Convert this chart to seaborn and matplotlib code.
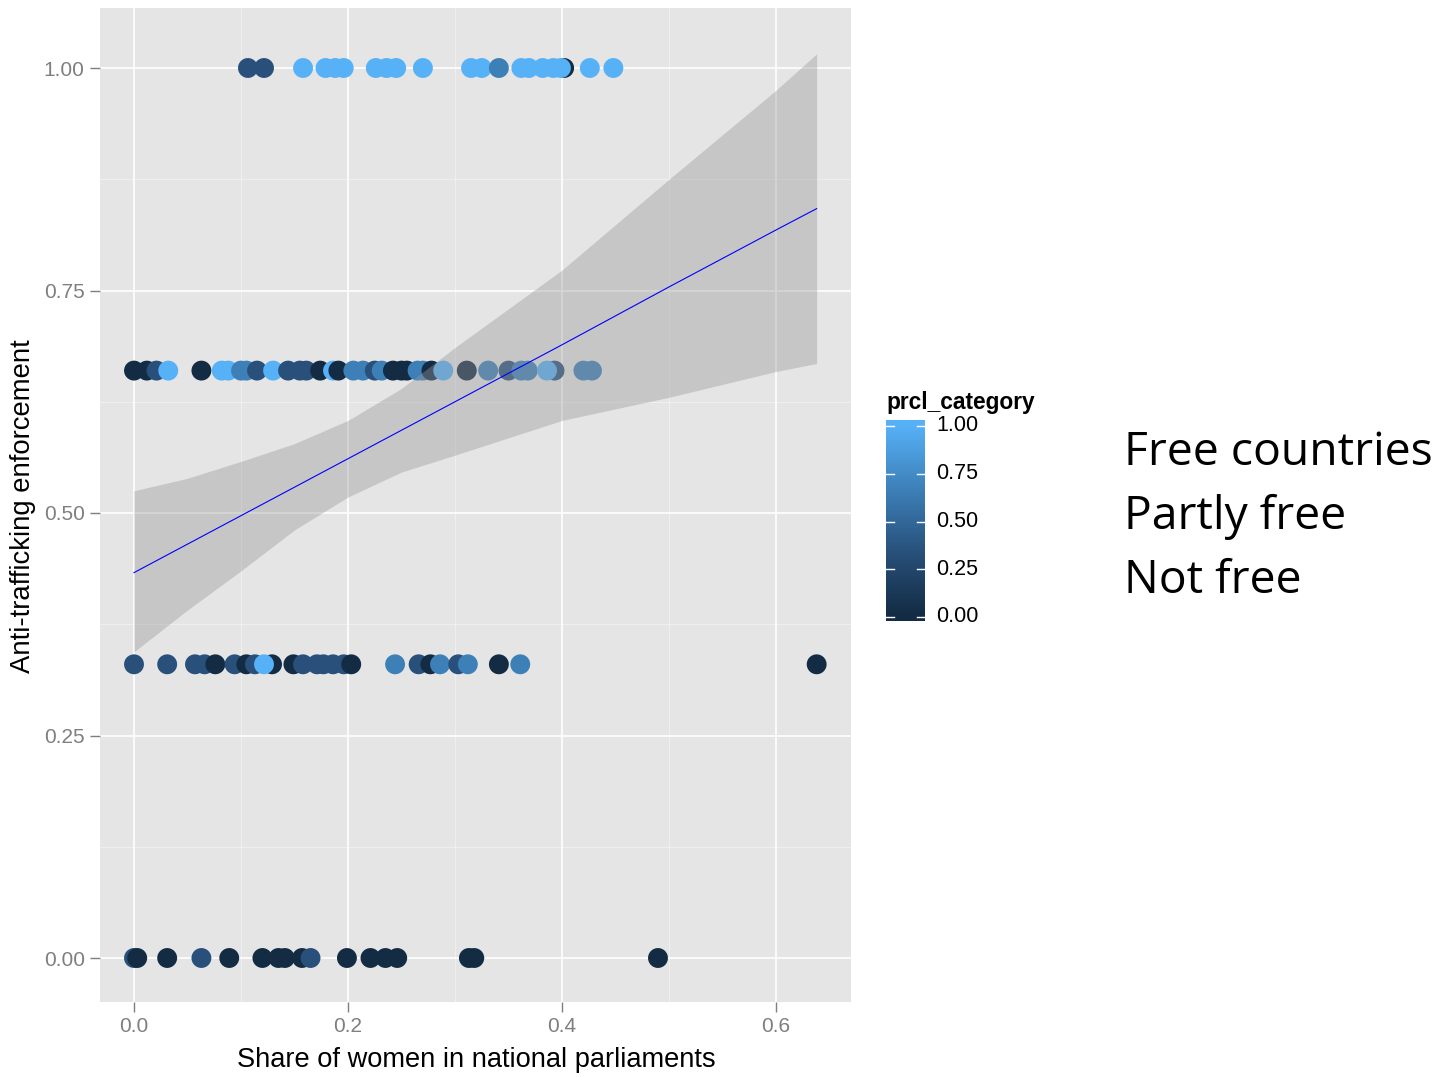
import numpy as np
import pandas as pd
import matplotlib
matplotlib.use("Agg")
import matplotlib.pyplot as plt
from matplotlib.colors import LinearSegmentedColormap
import seaborn as sns

# ---------------- data ----------------
x_y100 = [0.1065, 0.1215, 0.158, 0.179, 0.188, 0.196, 0.226, 0.236, 0.245, 0.270,
          0.315, 0.325, 0.341, 0.362, 0.369, 0.402, 0.382, 0.392, 0.399, 0.426, 0.448]
c_y100 = [1/3, 1/3, 1, 1, 1, 1, 1, 1, 1, 1,
          1, 1, 2/3, 1, 1, 0, 1, 1, 1, 1, 1]

x_y066 = [0.000, 0.012, 0.021, 0.032, 0.063, 0.082, 0.088, 0.100, 0.105, 0.115, 0.130,
          0.144, 0.161, 0.155, 0.174, 0.186, 0.191, 0.205, 0.214, 0.225, 0.2315,
          0.242, 0.250, 0.255, 0.265, 0.270, 0.278, 0.289, 0.311, 0.331, 0.350,
          0.362, 0.368, 0.393, 0.386, 0.420, 0.428]
c_y066 = [0, 0, 1/3, 1, 0, 1, 1, 2/3, 2/3, 1/3, 1,
          1/3, 1/3, 1/3, 0, 1, 0, 2/3, 2/3, 1/3, 2/3,
          0, 0, 0, 2/3, 2/3, 0, 1, 0, 2/3, 1/3,
          2/3, 2/3, 1/3, 1, 2/3, 2/3]

x_y033 = [0.000, 0.031, 0.057, 0.066, 0.076, 0.094, 0.105, 0.113, 0.129, 0.1215,
          0.149, 0.158, 0.171, 0.177, 0.186, 0.196, 0.203, 0.244, 0.266, 0.277,
          0.286, 0.303, 0.312, 0.341, 0.361, 0.638]
c_y033 = [1/3, 1/3, 1/3, 1/3, 0, 1/3, 0, 1/3, 0, 1,
          0, 1/3, 1/3, 1/3, 1/3, 1/3, 0, 2/3, 1/3, 0,
          2/3, 1/3, 2/3, 0, 2/3, 0]

x_y000 = [0.000, 0.003, 0.031, 0.063, 0.089, 0.120, 0.135, 0.141, 0.157, 0.165,
          0.199, 0.221, 0.235, 0.246, 0.313, 0.318, 0.4897]
c_y000 = [1/3, 0, 0, 1/3, 0, 0, 0, 0, 0, 1/3,
          0, 0, 0, 0, 0, 0, 0]

y_levels = [1.0, 0.66, 0.33, 0.0]

# linear smoother (fit and 95% band)
smooth_x = [0.0, 0.05, 0.1, 0.15, 0.2, 0.25, 0.3, 0.4, 0.5, 0.6, 0.638]
smooth_fit = [0.433, 0.465, 0.497, 0.529, 0.561, 0.593, 0.625, 0.689, 0.754, 0.818, 0.842]
smooth_hi = [0.525, 0.539, 0.558, 0.578, 0.604, 0.640, 0.686, 0.773, 0.875, 0.975, 1.016]
smooth_lo = [0.344, 0.391, 0.435, 0.481, 0.518, 0.546, 0.565, 0.604, 0.630, 0.659, 0.668]

x_ticks = [0.0, 0.2, 0.4, 0.6]
x_ticklabels = ["0.0", "0.2", "0.4", "0.6"]
y_ticks = [0.0, 0.25, 0.5, 0.75, 1.0]
y_ticklabels = ["0.00", "0.25", "0.50", "0.75", "1.00"]
legend_ticks = [0.0, 0.25, 0.5, 0.75, 1.0]
legend_labels = ["0.00", "0.25", "0.50", "0.75", "1.00"]
side_labels = ["Free countries", "Partly free", "Not free"]

xs_all = [x_y100, x_y066, x_y033, x_y000]
cs_all = [c_y100, c_y066, c_y033, c_y000]
rows = []
for lvl, xs, cs in zip(y_levels, xs_all, cs_all):
    for xv, cv in zip(xs, cs):
        rows.append((xv, lvl, cv))
df = pd.DataFrame(rows, columns=["women", "enforcement", "prcl_category"])

# ---------------- figure ----------------
W, H = 1439, 1077
fig = plt.figure(figsize=(W / 100, H / 100), dpi=100)
fig.patch.set_facecolor("white")

def box(x0, y0, x1, y1):
    return [x0 / W, 1 - y1 / H, (x1 - x0) / W, (y1 - y0) / H]

ax = fig.add_axes(box(100, 8, 851, 1002))
ax.set_facecolor("#E5E5E5")

cmap = LinearSegmentedColormap.from_list(
    "gg", [(0, "#132B43"), (1/3, "#28507A"), (2/3, "#3D80B8"), (1, "#56B1F7")])

# grid
for xv in [0.1, 0.3, 0.5]:
    ax.axvline(xv, color="#F2F2F2", lw=0.6, zorder=0)
for yv in [0.125, 0.375, 0.625, 0.875]:
    ax.axhline(yv, color="#F2F2F2", lw=0.6, zorder=0)
for xv in x_ticks:
    ax.axvline(xv, color="white", lw=1.2, zorder=0)
for yv in y_ticks:
    ax.axhline(yv, color="white", lw=1.2, zorder=0)

sns.scatterplot(data=df, x="women", y="enforcement", hue="prcl_category",
                palette=cmap, hue_norm=(0, 1), s=205, linewidth=0,
                legend=False, ax=ax, zorder=2)

ax.fill_between(smooth_x, smooth_lo, smooth_hi, color="#999999",
                alpha=0.4, linewidth=0, zorder=3)
ax.plot(smooth_x, smooth_fit, color="blue", lw=0.8, zorder=4)

ax.set_xlim((100 - 134) / 1070, (851 - 134) / 1070)
ax.set_ylim(-(1002 - 958) / 890, 1 + (68 - 8) / 890)
ax.set_xticks(x_ticks)
ax.set_xticklabels(x_ticklabels)
ax.set_yticks(y_ticks)
ax.set_yticklabels(y_ticklabels)
for sp in ax.spines.values():
    sp.set_visible(False)
ax.tick_params(axis="both", colors="#7F7F7F", length=7, width=1,
               labelsize=15, labelcolor="#7F7F7F", pad=4)
for lab in ax.get_xticklabels() + ax.get_yticklabels():
    lab.set_family("Liberation Sans")
ax.set_xlabel("Share of women in national parliaments", fontsize=19.6,
              family="Liberation Sans", color="black")
ax.set_ylabel("Anti-trafficking enforcement", fontsize=19.8,
              family="Liberation Sans", color="black")
ax.xaxis.set_label_coords((476 - 100) / 751, -(1060 - 1002) / 994)
ax.xaxis.label.set_va("center")
ax.yaxis.set_label_coords((23 - 100) / 751, 1 - (506.5 - 8) / 994)
ax.yaxis.label.set_va("center")

# colour-bar legend
cax = fig.add_axes(box(886, 420, 925, 621))
lo, hi = -(621 - 617) / 191, 1 + (426 - 420) / 191
grad = np.linspace(lo, hi, 256).reshape(-1, 1)
cax.imshow(grad, cmap=cmap, vmin=0, vmax=1, aspect="auto", origin="lower",
           extent=(0, 1, lo, hi))
cax.set_xlim(0, 1)
cax.set_ylim(lo, hi)
cax.set_xticks([])
cax.set_yticks([])
for sp in cax.spines.values():
    sp.set_visible(False)
for t, lab in zip(legend_ticks, legend_labels):
    cax.plot([0, 0.2], [t, t], color="white", lw=1)
    cax.plot([0.8, 1], [t, t], color="white", lw=1)
    cax.text(1.28, t, lab, transform=cax.transData, va="center", ha="left",
             fontsize=15.5, family="Liberation Sans", color="black")
fig.text(886 / W, 1 - 403 / H, "prcl_category", fontsize=16.4, weight="bold",
         family="Liberation Sans", ha="left", va="center")

# annotations on the right
for lab, yb in zip(side_labels, [465, 529, 593]):
    fig.text(1124 / W, 1 - yb / H, lab, fontsize=33.3, family="Open Sans",
             ha="left", va="baseline", color="black")

fig.savefig("out.png", dpi=100)
